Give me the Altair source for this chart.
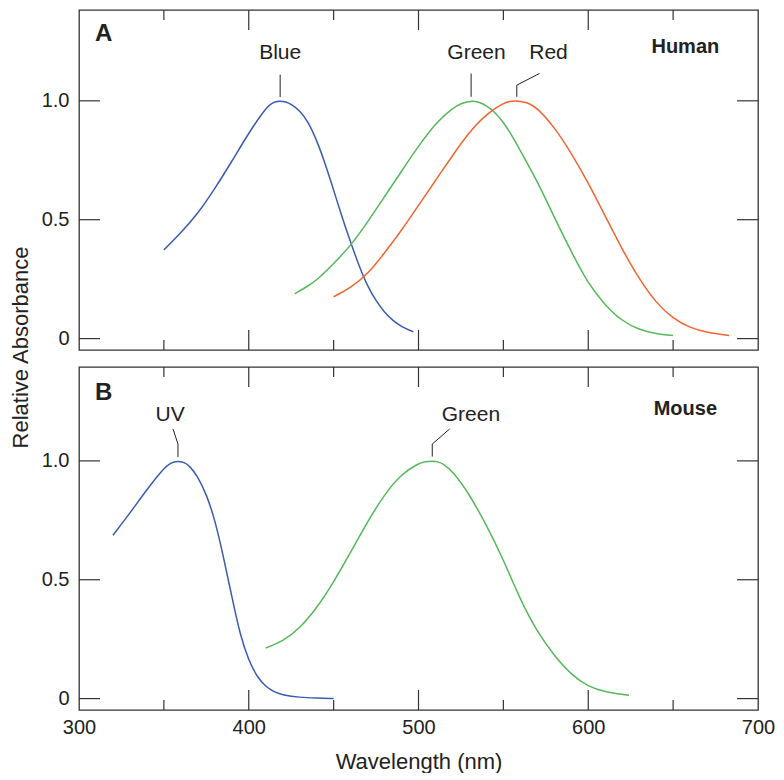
import altair as alt
import pandas as pd

# ---------------- data ----------------
# Human, panel A
hb_wl = [350, 360, 370, 380, 390, 400, 410, 414, 418, 422, 425, 430, 435, 440, 445, 450, 455, 460, 465, 470, 475, 480, 485, 490, 497]
hb_v = [0.373, 0.445, 0.525, 0.63, 0.745, 0.865, 0.97, 0.993, 1.0, 0.996, 0.985, 0.96, 0.912, 0.835, 0.737, 0.625, 0.51, 0.405, 0.305, 0.22, 0.158, 0.11, 0.075, 0.05, 0.028]

hg_wl = [427, 435, 440, 450, 460, 470, 480, 490, 500, 510, 520, 526, 531, 536, 540, 545, 550, 555, 560, 570, 580, 590, 600, 610, 620, 630, 640, 650]
hg_v = [0.188, 0.222, 0.245, 0.315, 0.39, 0.49, 0.597, 0.704, 0.81, 0.905, 0.97, 0.992, 1.0, 0.994, 0.98, 0.952, 0.91, 0.855, 0.79, 0.662, 0.51, 0.365, 0.23, 0.14, 0.073, 0.037, 0.02, 0.013]

hr_wl = [450, 460, 470, 480, 490, 500, 510, 520, 530, 540, 550, 553, 557, 561, 565, 570, 580, 590, 600, 610, 620, 630, 640, 650, 660, 670, 683]
hr_v = [0.176, 0.213, 0.27, 0.36, 0.455, 0.56, 0.665, 0.77, 0.87, 0.945, 0.99, 0.997, 1.0, 0.997, 0.99, 0.97, 0.89, 0.78, 0.655, 0.515, 0.375, 0.25, 0.15, 0.083, 0.045, 0.025, 0.013]

# Mouse, panel B
mu_wl = [320, 330, 340, 350, 354, 358, 362, 365, 370, 375, 380, 385, 390, 395, 400, 405, 410, 415, 420, 430, 440, 450]
mu_v = [0.687, 0.78, 0.88, 0.97, 0.992, 1.0, 0.994, 0.98, 0.935, 0.86, 0.755, 0.60, 0.43, 0.265, 0.16, 0.09, 0.05, 0.028, 0.015, 0.005, 0.002, 0.0]

mg_wl = [410, 420, 430, 440, 450, 460, 470, 480, 490, 500, 504, 508, 512, 515, 520, 530, 540, 550, 560, 570, 580, 590, 600, 610, 624]
mg_v = [0.213, 0.24, 0.295, 0.38, 0.49, 0.615, 0.745, 0.86, 0.945, 0.99, 0.997, 1.0, 0.996, 0.985, 0.957, 0.86, 0.73, 0.585, 0.415, 0.28, 0.18, 0.1, 0.05, 0.027, 0.014]

# axis ticks / labels
x_labels = [300, 400, 500, 600, 700]
x_major = [400, 500, 600]
x_minor = [350, 450, 550, 650]
y_ticks = [0, 0.5, 1.0]

# curve labels (text, wavelength, value)
a_labels = [("Blue", 418.5, 1.202), ("Green", 534.2, 1.2), ("Red", 576.6, 1.2)]
a_bold = [("A", 314.6, 1.279, 24), ("Human", 657.2, 1.225, 20)]
b_labels = [("UV", 353.7, 1.195), ("Green", 530.9, 1.194)]
b_bold = [("B", 314.6, 1.285, 24), ("Mouse", 657.2, 1.218, 20)]

# leader lines (id, order, wavelength, value)
a_leaders = [
    ("blue", 0, 418.5, 1.016), ("blue", 1, 418.5, 1.11),
    ("green", 0, 531.0, 1.017), ("green", 1, 531.0, 1.115),
    ("red", 0, 557.9, 1.017), ("red", 1, 557.9, 1.066), ("red", 2, 571.3, 1.115),
]
b_leaders = [
    ("uv", 0, 358.3, 1.016), ("uv", 1, 358.3, 1.071), ("uv", 2, 355.4, 1.134),
    ("green", 0, 508.1, 1.018), ("green", 1, 508.1, 1.071), ("green", 2, 518.3, 1.134),
]

hue_domain = ["blue", "green", "red"]
hue_range = ["#3a5cb0", "#55b85a", "#f26430"]

# ---------------- layout constants ----------------
FONT = "Liberation Sans"
TXT = "#222222"
TC = "#333333"
W = 679
HA = 340
HB = 343
DOM_A = [-0.048, 1.382]
DOM_B = [-0.048, 1.395]


def curves_df(items):
    rows = []
    for name, hue, wl, v in items:
        for a, b in zip(wl, v):
            rows.append({"series": name, "hue": hue, "wl": a, "val": b})
    return pd.DataFrame(rows)


def panel(curves, labels, bold, leaders, H, dom, show_x, y_title):
    xs = alt.Scale(domain=[300, 700], nice=False, zero=False)
    ys = alt.Scale(domain=dom, nice=False, zero=False)

    if show_x:
        x_axis = alt.Axis(values=x_labels, ticks=False, tickSize=0, domain=False, grid=False,
                          labelFlush=False, labelFontSize=20, labelPadding=7, labelFont=FONT,
                          labelColor=TXT, title="Wavelength (nm)", titleFontSize=22,
                          titleFontWeight="normal", titlePadding=14, titleFont=FONT,
                          titleColor=TXT)
    else:
        x_axis = None

    y_kw = dict(values=y_ticks, labelExpr="datum.value == 0 ? '0' : format(datum.value, '.1f')",
                ticks=False, tickSize=0, domain=False, grid=False, labelFlush=False,
                labelFontSize=20, labelPadding=10, labelFont=FONT, labelColor=TXT)
    if y_title:
        y_axis = alt.Axis(title="Relative Absorbance", titleAngle=270, titleX=-47, titleY=337,
                          titleAlign="center", titleBaseline="bottom", titleFontSize=22,
                          titleFontWeight="normal", titleFont=FONT, titleColor=TXT, **y_kw)
    else:
        y_axis = alt.Axis(title=None, **y_kw)

    def X(**kw):
        if x_axis is None:
            return alt.X("wl:Q", scale=xs, axis=None)
        return alt.X("wl:Q", scale=xs, **kw)

    def Y(**kw):
        return alt.Y("val:Q", scale=ys, **kw)

    line = alt.Chart(curves).mark_line(strokeWidth=1.5, interpolate="basis").encode(
        x=X(axis=x_axis) if x_axis is not None else X(),
        y=Y(axis=y_axis),
        color=alt.Color("hue:N", scale=alt.Scale(domain=hue_domain, range=hue_range), legend=None),
        detail="series:N",
    )

    xmaj = pd.DataFrame({"wl": x_major})
    xmin = pd.DataFrame({"wl": x_minor})
    yt = pd.DataFrame({"val": y_ticks})

    def xt(df, y0, y1):
        return alt.Chart(df).mark_rule(color=TC, strokeWidth=1.2).encode(
            x=X(), y=alt.value(y0), y2=alt.value(y1))

    def ytk(x0, x1):
        return alt.Chart(yt).mark_rule(color=TC, strokeWidth=1.2).encode(
            y=Y(), x=alt.value(x0), x2=alt.value(x1))

    ticks = [xt(xmaj, 0, 20), xt(xmin, 0, 10), xt(xmaj, H, H - 20), xt(xmin, H, H - 10),
             ytk(0, 21), ytk(W - 21, W)]

    lab_df = pd.DataFrame(labels, columns=["label", "wl", "val"])
    labs = alt.Chart(lab_df).mark_text(font=FONT, fontSize=21, color=TXT, align="center",
                                       baseline="middle").encode(x=X(), y=Y(), text="label:N")

    bold_df = pd.DataFrame(bold, columns=["label", "wl", "val", "size"])
    bolds = alt.Chart(bold_df).mark_text(font=FONT, fontWeight="bold", color=TXT, align="center",
                                         baseline="middle").encode(
        x=X(), y=Y(), text="label:N", size=alt.Size("size:Q", scale=None, legend=None))

    ld_df = pd.DataFrame(leaders, columns=["id", "ord", "wl", "val"])
    lead = alt.Chart(ld_df).mark_line(color=TXT, strokeWidth=1).encode(
        x=X(), y=Y(), detail="id:N", order="ord:Q")

    return alt.layer(line, *ticks, lead, labs, bolds).properties(width=W, height=H)


curves_a = curves_df([("Blue", "blue", hb_wl, hb_v), ("Green", "green", hg_wl, hg_v),
                      ("Red", "red", hr_wl, hr_v)])
curves_b = curves_df([("UV", "blue", mu_wl, mu_v), ("Green", "green", mg_wl, mg_v)])

pa = panel(curves_a, a_labels, a_bold, a_leaders, HA, DOM_A, False, True)
pb = panel(curves_b, b_labels, b_bold, b_leaders, HB, DOM_B, True, False)

chart = alt.vconcat(pa, pb, spacing=17, bounds="flush").resolve_scale(
    x="independent", y="independent"
).properties(
    padding={"left": 0, "top": 0, "right": 0, "bottom": 0}
).configure_view(stroke=TC, strokeWidth=1.3)

chart.save("out.html", embed_options={"renderer": "svg", "actions": False})
